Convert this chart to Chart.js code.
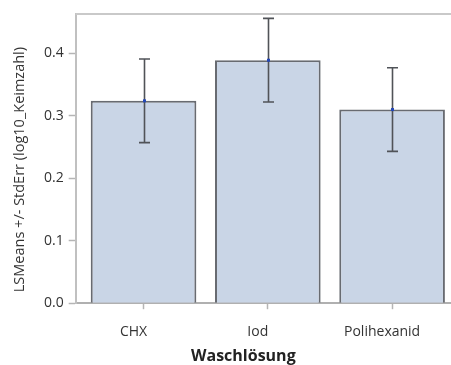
<!DOCTYPE html>
<html>
<head>
<meta charset="utf-8">
<script src="https://cdn.jsdelivr.net/npm/chart.js@4/dist/chart.umd.min.js"></script>
<style>
  html, body { margin: 0; padding: 0; background: #fff; overflow: hidden; }
  canvas { display: block; }
</style>
</head>
<body>
<canvas id="c" width="451" height="365"></canvas>
<script>
// Least-squares means of log10 germ count per washing solution, with standard errors
const categories = ['CHX', 'Iod', 'Polihexanid'];
const lsMeans = [0.324, 0.389, 0.310];
const stdErr = [0.067, 0.067, 0.067];
const yTicks = [0.0, 0.1, 0.2, 0.3, 0.4];

const xTitle = 'Waschlösung';
const yTitle = 'LSMeans +/- StdErr (log10_Keimzahl)';

const FONT = "'Open Sans', 'DejaVu Sans', sans-serif";

// whiskers for +/- one standard error, with a small dot at the mean
const errorBars = {
  id: 'errorBars',
  afterDatasetsDraw(chart) {
    const xs = chart.scales.x, ys = chart.scales.y;
    const ctx = chart.ctx;
    ctx.save();
    categories.forEach((c, i) => {
      const x = Math.round(xs.getPixelForValue(i)) + 0.5;
      const yHi = ys.getPixelForValue(lsMeans[i] + stdErr[i]);
      const yLo = ys.getPixelForValue(lsMeans[i] - stdErr[i]);
      const yM = ys.getPixelForValue(lsMeans[i]);
      ctx.strokeStyle = '#505358';
      ctx.lineWidth = 1.6;
      ctx.beginPath();
      ctx.moveTo(x, yHi); ctx.lineTo(x, yLo);
      ctx.moveTo(x - 5.5, yHi); ctx.lineTo(x + 5.5, yHi);
      ctx.moveTo(x - 5.5, yLo); ctx.lineTo(x + 5.5, yLo);
      ctx.stroke();
      ctx.fillStyle = '#2448b8';
      ctx.fillRect(x - 1.5, yM - 1.5, 3, 3);
    });
    ctx.restore();
  }
};

// top frame line and the two axis titles
const frameAndTitles = {
  id: 'frameAndTitles',
  afterDraw(chart) {
    const a = chart.chartArea;
    const ctx = chart.ctx;
    ctx.save();
    ctx.strokeStyle = '#c9c9c9';
    ctx.lineWidth = 2;
    ctx.beginPath();
    ctx.moveTo(a.left, a.top);
    ctx.lineTo(a.right, a.top);
    ctx.stroke();

    ctx.fillStyle = '#222';
    ctx.textAlign = 'center';
    ctx.textBaseline = 'middle';
    ctx.font = 'bold 16px ' + FONT;
    ctx.fillText(xTitle, (a.left + a.right) / 2 - 20, 356);

    ctx.font = '14.5px ' + FONT;
    ctx.fillStyle = '#333';
    ctx.translate(20, (a.top + a.bottom) / 2 + 11);
    ctx.rotate(-Math.PI / 2);
    ctx.fillText(yTitle, 0, 0);
    ctx.restore();
  }
};

new Chart(document.getElementById('c'), {
  type: 'bar',
  data: {
    datasets: [{
      data: categories.map((c, i) => ({ x: i, y: lsMeans[i] })),
      backgroundColor: '#c9d5e6',
      borderColor: '#686b71',
      borderWidth: 2,
      barPercentage: 0.85,
      categoryPercentage: 1.0
    }]
  },
  options: {
    responsive: false,
    animation: false,
    devicePixelRatio: 1,
    layout: { padding: { top: 14, right: 0, left: 39, bottom: 11 } },
    plugins: { legend: { display: false }, tooltip: { enabled: false } },
    scales: {
      x: {
        type: 'linear',
        offset: false,
        min: -0.546,
        max: 2.474,
        afterBuildTicks(scale) { scale.ticks = categories.map((c, i) => ({ value: i })); },
        grid: { offset: false, drawOnChartArea: false, tickLength: 6, tickColor: '#b5b5b5', tickWidth: 1.5 },
        border: { color: '#b0b0b0', width: 2 },
        ticks: {
          callback: (v) => categories[v],
          color: '#333',
          font: { family: FONT, size: 14 },
          padding: 14,
          labelOffset: -10,
          maxRotation: 0
        }
      },
      y: {
        min: 0,
        max: 0.463,
        afterBuildTicks(scale) { scale.ticks = yTicks.map(v => ({ value: v })); },
        grid: { drawOnChartArea: false, tickLength: 7, tickColor: '#b5b5b5', tickWidth: 1.5 },
        border: { color: '#c0c0c0', width: 2 },
        ticks: {
          callback: (v) => Number(v).toFixed(1),
          color: '#333',
          font: { family: FONT, size: 14 },
          padding: 5
        }
      }
    }
  },
  plugins: [errorBars, frameAndTitles]
});
</script>
</body>
</html>
